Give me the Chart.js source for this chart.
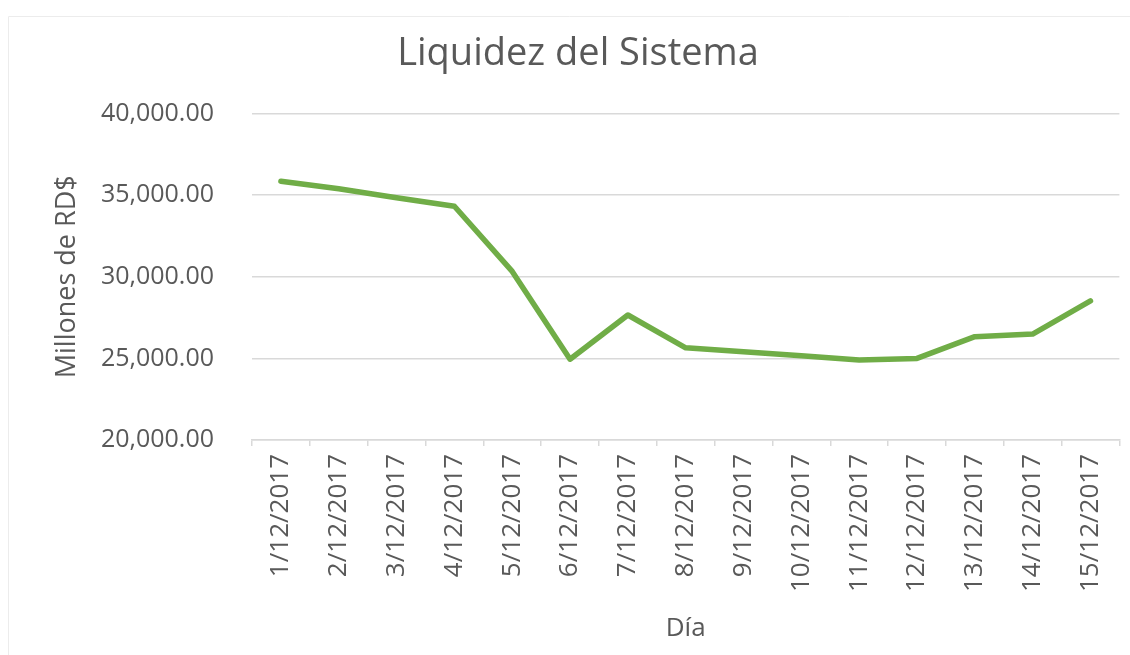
<!DOCTYPE html>
<html>
<head>
<meta charset="utf-8">
<script src="https://cdn.jsdelivr.net/npm/chart.js@4/dist/chart.umd.min.js"></script>
<style>
  html, body { margin: 0; padding: 0; background: #fff; }
  #myChart { display: block; }
</style>
</head>
<body>
<canvas id="myChart" width="1130" height="655"></canvas>
<script>
/* Liquidez del Sistema, diciembre 2017 */
const dias = ['1/12/2017', '2/12/2017', '3/12/2017', '4/12/2017', '5/12/2017',
  '6/12/2017', '7/12/2017', '8/12/2017', '9/12/2017', '10/12/2017',
  '11/12/2017', '12/12/2017', '13/12/2017', '14/12/2017', '15/12/2017'];
const liquidez = [35860, 35390, 34840, 34320, 30330, 24950, 27660, 25650,
  25410, 25160, 24900, 25000, 26330, 26490, 28520];

const gris = '#595959';
const fuente = '"Open Sans", sans-serif';

// faint outer frame like the Excel chart area
const marco = {
  id: 'marco',
  beforeDraw: chart => {
    const c = chart.ctx;
    c.save();
    c.strokeStyle = '#ececec';
    c.lineWidth = 1;
    c.beginPath();
    c.moveTo(8.5, 655);
    c.lineTo(8.5, 16.5);
    c.lineTo(1130, 16.5);
    c.stroke();
    c.restore();
  }
};

const ctx = document.getElementById('myChart');
const myChart = new Chart(ctx, {
  type: 'line',
  plugins: [marco],
  data: {
    labels: dias,
    datasets: [{
      label: 'Liquidez',
      data: liquidez,
      borderColor: '#70AD47',
      backgroundColor: '#70AD47',
      borderWidth: 5.5,
      borderCapStyle: 'round',
      borderJoinStyle: 'round',
      pointRadius: 0,
      tension: 0
    }]
  },
  options: {
    responsive: false,
    animation: false,
    events: [],
    layout: {
      padding: { left: 36, right: 10, top: 0, bottom: 0 }
    },
    plugins: {
      legend: { display: false },
      tooltip: { enabled: false },
      title: {
        display: true,
        text: 'Liquidez del Sistema',
        color: gris,
        font: { family: fuente, size: 38, weight: 'normal' },
        padding: { top: 31, bottom: 37 }
      }
    },
    scales: {
      x: {
        offset: true,
        grid: {
          offset: true,
          drawOnChartArea: false,
          drawTicks: true,
          tickLength: 6,
          color: '#d9d9d9',
          lineWidth: 1.5
        },
        border: { color: '#d9d9d9', width: 1.5 },
        ticks: {
          autoSkip: false,
          minRotation: 90,
          maxRotation: 90,
          padding: 8,
          color: gris,
          font: { family: fuente, size: 26 }
        },
        title: {
          display: true,
          text: 'Día',
          color: gris,
          font: { family: fuente, size: 26 },
          padding: { top: 0, bottom: 11 }
        },
        afterFit: scale => { scale.height = 215; }
      },
      y: {
        min: 20000,
        max: 40000,
        grid: {
          drawTicks: false,
          color: '#d9d9d9',
          lineWidth: 1.5
        },
        border: { display: false },
        ticks: {
          stepSize: 5000,
          padding: 38,
          color: gris,
          font: { family: fuente, size: 25 },
          callback: v => v.toLocaleString('en-US', { minimumFractionDigits: 2, maximumFractionDigits: 2 })
        },
        title: {
          display: true,
          text: 'Millones de RD$',
          color: gris,
          font: { family: fuente, size: 27 },
          padding: { top: 15, bottom: 0 }
        },
        afterFit: scale => { scale.width = 216; }
      }
    }
  }
});
</script>
</body>
</html>
